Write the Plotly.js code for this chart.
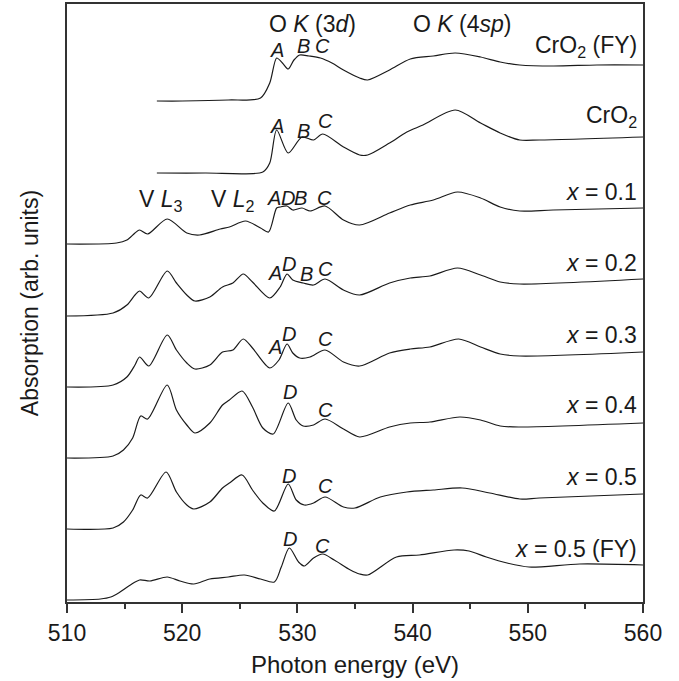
<!DOCTYPE html>
<html>
<head>
<meta charset="utf-8">
<script src="https://cdn.plot.ly/plotly-3.0.1.min.js"></script>
<style>html,body{margin:0;padding:0;background:#fff;}#chart{width:679px;height:681px;}</style>
</head>
<body>
<div id="chart"></div>
<script>
// Photon energy (eV) and absorption (arb. units, vertically offset) for each spectrum
const crO2FY_E = [517.8, 520, 524, 526.8, 527.6, 528.2, 528.7, 529.2, 529.7, 530.2, 531, 532, 533, 534, 535.4, 536.1, 538, 539.8, 541.8, 543.7, 545.9, 547.6, 549.3, 552.2, 556, 560];
const crO2FY_A = [5.01, 5.01, 5.02, 5.04, 5.19, 5.44, 5.39, 5.33, 5.42, 5.47, 5.46, 5.44, 5.39, 5.32, 5.24, 5.22, 5.32, 5.43, 5.46, 5.49, 5.45, 5.40, 5.37, 5.36, 5.37, 5.37];

const crO2_E = [517.8, 522, 527, 527.6, 528.2, 529.2, 530.4, 531.4, 532.2, 534, 535.4, 536.1, 538, 539.5, 540.9, 543.7, 545.9, 547.6, 549.3, 551, 560];
const crO2_A = [4.29, 4.29, 4.30, 4.39, 4.72, 4.49, 4.65, 4.62, 4.68, 4.55, 4.47, 4.47, 4.59, 4.70, 4.77, 4.92, 4.79, 4.69, 4.62, 4.62, 4.65];

const x01_E = [510, 514.3, 515.2, 515.9, 516.3, 517, 518.7, 520.4, 521.5, 523.3, 524.1, 525.5, 526.8, 527.5, 528.2, 528.5, 529.1, 529.6, 530.4, 531.1, 532.4, 534, 535.4, 538, 539.8, 541.8, 543.9, 545.9, 547.6, 549.3, 552.2, 560];
const x01_A = [3.58, 3.59, 3.62, 3.69, 3.72, 3.68, 3.83, 3.69, 3.67, 3.73, 3.75, 3.81, 3.74, 3.70, 3.94, 3.95, 3.96, 3.92, 3.94, 3.91, 3.96, 3.82, 3.77, 3.89, 3.97, 4.02, 4.10, 4.04, 3.95, 3.91, 3.92, 3.94];

const x02_E = [510, 514, 515.2, 515.9, 516.3, 517.1, 518.7, 519.5, 520.4, 521.1, 522.4, 523.5, 524.4, 525.3, 526.1, 527.6, 528.5, 529.1, 529.6, 530.5, 531.4, 532.4, 534, 535.4, 538, 539.8, 541.5, 543.9, 545.9, 547.6, 549.3, 560];
const x02_A = [2.86, 2.89, 2.97, 3.07, 3.11, 3.04, 3.31, 3.19, 3.07, 3.01, 3.05, 3.15, 3.19, 3.28, 3.20, 3.04, 3.15, 3.28, 3.22, 3.19, 3.17, 3.23, 3.12, 3.07, 3.19, 3.24, 3.26, 3.34, 3.27, 3.20, 3.18, 3.23];

const x03_E = [510, 514, 515.2, 515.9, 516.3, 517.1, 518.7, 519.5, 520.4, 521.1, 522.4, 523.5, 524.4, 525.3, 526.1, 527.6, 528.4, 529.1, 529.6, 530.2, 531.1, 532.4, 534, 535.4, 538, 539.8, 541.5, 544, 545.9, 547.6, 549.3, 560];
const x03_A = [2.15, 2.17, 2.25, 2.37, 2.45, 2.36, 2.67, 2.52, 2.39, 2.33, 2.37, 2.50, 2.52, 2.63, 2.54, 2.34, 2.42, 2.58, 2.49, 2.44, 2.45, 2.52, 2.40, 2.36, 2.49, 2.53, 2.55, 2.63, 2.55, 2.48, 2.46, 2.50];

const x04_E = [510, 514, 514.9, 515.7, 516.4, 517, 518.7, 519.5, 520.4, 521.1, 522.4, 523.5, 524.1, 525.2, 526.1, 527, 527.9, 529.2, 529.9, 530.5, 531.4, 532.4, 534, 535.4, 538, 539.8, 541.5, 544.1, 545.9, 547.6, 549.3, 560];
const x04_A = [1.44, 1.46, 1.52, 1.64, 1.86, 1.83, 2.17, 1.92, 1.77, 1.69, 1.79, 1.97, 2.02, 2.11, 1.95, 1.74, 1.68, 1.99, 1.82, 1.76, 1.77, 1.83, 1.73, 1.65, 1.75, 1.79, 1.80, 1.85, 1.82, 1.76, 1.75, 1.79];

const x05_E = [510, 514, 514.9, 515.7, 516.4, 517, 518.6, 519.5, 520.4, 521, 522.4, 523.5, 524.1, 525.2, 526.1, 527, 528, 529.2, 529.9, 530.6, 531.4, 532.4, 534, 535, 537.2, 539.5, 541.8, 544.3, 546.7, 549.3, 551, 560];
const x05_A = [0.73, 0.74, 0.80, 0.92, 1.07, 1.04, 1.30, 1.10, 0.97, 0.93, 1.00, 1.14, 1.19, 1.27, 1.12, 0.99, 0.91, 1.18, 1.02, 0.97, 0.99, 1.05, 0.95, 0.94, 1.05, 1.10, 1.12, 1.14, 1.09, 1.03, 1.04, 1.08];

const x05FY_E = [510, 512.9, 513.8, 514.6, 515.5, 516.3, 517.2, 518.7, 519.8, 521, 522.4, 524, 525.4, 526.8, 528, 528.6, 529.3, 530.1, 530.6, 531.4, 532.2, 533.2, 534.6, 535.4, 536.1, 538.6, 540.6, 543.6, 544.9, 546.4, 548.2, 550.1, 554.5, 560];
const x05FY_A = [0.02, 0.03, 0.05, 0.10, 0.17, 0.22, 0.21, 0.25, 0.21, 0.18, 0.23, 0.25, 0.27, 0.23, 0.20, 0.35, 0.54, 0.40, 0.36, 0.44, 0.48, 0.42, 0.32, 0.28, 0.27, 0.45, 0.47, 0.52, 0.51, 0.45, 0.39, 0.35, 0.38, 0.37];

const xTicks = [510, 520, 530, 540, 550, 560];

const series = [
  {name: 'CrO2 (FY)', x: crO2FY_E, y: crO2FY_A},
  {name: 'CrO2', x: crO2_E, y: crO2_A},
  {name: 'x = 0.1', x: x01_E, y: x01_A},
  {name: 'x = 0.2', x: x02_E, y: x02_A},
  {name: 'x = 0.3', x: x03_E, y: x03_A},
  {name: 'x = 0.4', x: x04_E, y: x04_A},
  {name: 'x = 0.5', x: x05_E, y: x05_A},
  {name: 'x = 0.5 (FY)', x: x05FY_E, y: x05FY_A}
];

const traces = series.map(s => ({
  type: 'scatter', mode: 'lines', name: s.name, x: s.x, y: s.y,
  line: {color: '#1a1a1a', width: 1.2, shape: 'spline', smoothing: 0.8},
  hoverinfo: 'x+y+name'
}));

const FONT = 'Liberation Sans, Arial, Helvetica, sans-serif';
const TXT = '#1a1a1a';

function ann(x, y, text, size, opts) {
  return Object.assign({x: x, y: y, xref: 'x', yref: 'y', text: text, showarrow: false,
    font: {family: FONT, size: size, color: TXT}, xanchor: 'center', yanchor: 'middle'}, opts || {});
}
function peak(x, y, letter) { return ann(x, y, '<i>' + letter + '</i>', 20); }

const annotations = [
  ann(531.27, 5.78, 'O <i>K</i> (3<i>d</i>)', 23),
  ann(544.29, 5.78, 'O <i>K</i> (4<i>sp</i>)', 23),
  ann(518.2, 4.02, 'V <i>L</i><sub>3</sub>', 23),
  ann(524.45, 4.02, 'V <i>L</i><sub>2</sub>', 23),
  // spectrum labels
  ann(559.65, 5.56, 'CrO<sub>2</sub> (FY)', 23, {xanchor: 'right'}),
  ann(559.65, 4.86, 'CrO<sub>2</sub>', 23, {xanchor: 'right'}),
  ann(559.65, 4.10, '<i>x</i> = 0.1', 23, {xanchor: 'right'}),
  ann(559.65, 3.39, '<i>x</i> = 0.2', 23, {xanchor: 'right'}),
  ann(559.65, 2.67, '<i>x</i> = 0.3', 23, {xanchor: 'right'}),
  ann(559.65, 1.97, '<i>x</i> = 0.4', 23, {xanchor: 'right'}),
  ann(559.65, 1.25, '<i>x</i> = 0.5', 23, {xanchor: 'right'}),
  ann(559.65, 0.53, '<i>x</i> = 0.5 (FY)', 23, {xanchor: 'right'}),
  // peak letters
  peak(528.23, 5.52, 'A'), peak(530.49, 5.56, 'B'), peak(532.14, 5.56, 'C'),
  peak(528.23, 4.76, 'A'), peak(530.49, 4.71, 'B'), peak(532.40, 4.81, 'C'),
  peak(528.0, 4.04, 'A'), peak(529.15, 4.04, 'D'), peak(530.3, 4.04, 'B'), peak(532.31, 4.04, 'C'),
  peak(528.06, 3.29, 'A'), peak(529.27, 3.38, 'D'), peak(530.75, 3.28, 'B'), peak(532.40, 3.33, 'C'),
  peak(528.06, 2.55, 'A'), peak(529.27, 2.68, 'D'), peak(532.40, 2.63, 'C'),
  peak(529.36, 2.10, 'D'), peak(532.40, 1.92, 'C'),
  peak(529.27, 1.26, 'D'), peak(532.40, 1.16, 'C'),
  peak(529.36, 0.63, 'D'), peak(532.14, 0.56, 'C')
];

const layout = {
  width: 679, height: 681,
  margin: {l: 67, r: 36, t: 4, b: 79},
  paper_bgcolor: '#ffffff', plot_bgcolor: '#ffffff',
  showlegend: false,
  font: {family: FONT, size: 23, color: TXT},
  xaxis: {
    range: [510, 560], tickmode: 'array', tickvals: xTicks, ticktext: xTicks.map(String),
    ticks: 'outside', ticklen: 9, tickwidth: 1.5, tickcolor: '#333',
    minor: {dtick: 5, tick0: 510, ticks: 'outside', ticklen: 5, tickwidth: 1.5, tickcolor: '#333'},
    showline: true, linecolor: '#333', linewidth: 1.8, mirror: true,
    showgrid: false, zeroline: false,
    tickfont: {family: FONT, size: 23, color: TXT},
    title: {text: 'Photon energy (eV)', font: {family: FONT, size: 24, color: TXT}, standoff: 12}
  },
  yaxis: {
    range: [0, 5.98], showticklabels: false, ticks: '',
    showline: true, linecolor: '#333', linewidth: 1.8, mirror: true,
    showgrid: false, zeroline: false,
    title: {text: 'Absorption (arb. units)', font: {family: FONT, size: 23, color: TXT}, standoff: 20}
  },
  annotations: annotations
};

Plotly.newPlot('chart', traces, layout, {displayModeBar: false, staticPlot: false});
</script>
</body>
</html>
